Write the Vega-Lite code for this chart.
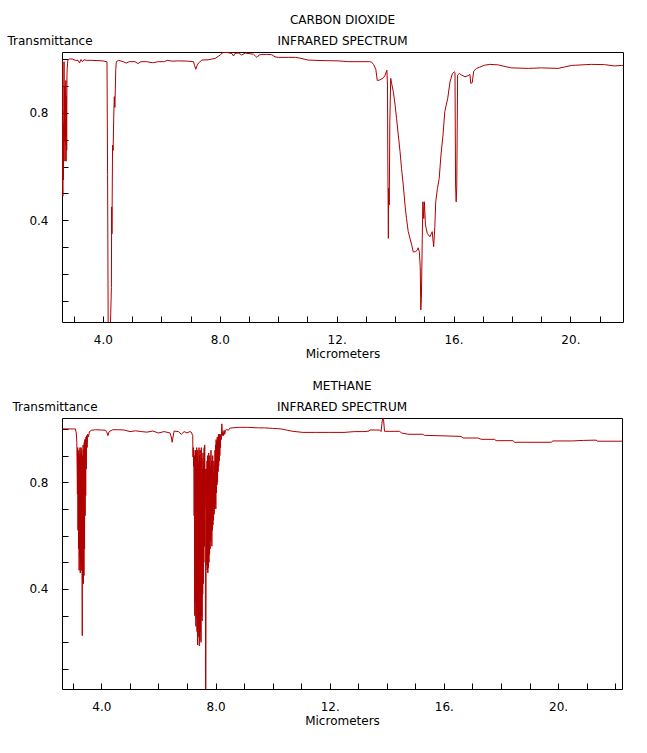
{
  "$schema": "https://vega.github.io/schema/vega-lite/v6.json",
  "padding": {"left": 4, "top": 13, "right": 5, "bottom": 5},
  "autosize": {"type": "pad"},
  "spacing": 19,
  "columns": 1,
  "align": "none",
  "config": {
    "font": "DejaVu Sans",
    "view": {"stroke": "black", "strokeWidth": 1},
    "axis": {"grid": false, "domain": false, "tickColor": "black", "tickSize": -6, "tickWidth": 1, "labelColor": "black", "labelFontSize": 12, "labelFont": "DejaVu Sans", "titleColor": "black", "titleFontSize": 12, "titleFontWeight": "normal", "titleFont": "DejaVu Sans", "labelOverlap": false, "labelFlush": false},
    "title": {"fontSize": 12, "fontWeight": "normal", "subtitleFontSize": 12, "color": "black", "subtitleColor": "black", "font": "DejaVu Sans", "subtitleFont": "DejaVu Sans", "subtitlePadding": 9, "frame": "group", "anchor": "middle", "offset": -14}
  },
  "datasets": {
    "co2": [
      {"w":2.60,"t":0.99},{"w":2.61,"t":0.99},{"w":2.62,"t":0.58},{"w":2.63,"t":0.49},{"w":2.64,"t":0.76},{"w":2.65,"t":0.55},{"w":2.66,"t":0.82},{"w":2.67,"t":0.99},{"w":2.68,"t":0.70},{"w":2.69,"t":0.90},{"w":2.70,"t":0.62},{"w":2.71,"t":0.88},{"w":2.72,"t":0.68},{"w":2.73,"t":0.92},{"w":2.74,"t":0.62},{"w":2.75,"t":0.86},{"w":2.76,"t":0.66},{"w":2.77,"t":0.94},{"w":2.78,"t":0.97},{"w":2.80,"t":0.995},{"w":2.85,"t":1.0},{"w":2.95,"t":1.0},{"w":3.05,"t":0.995},{"w":3.15,"t":0.995},{"w":3.2,"t":0.985},{"w":3.25,"t":0.998},{"w":3.3,"t":0.99},{"w":3.35,"t":0.997},{"w":3.45,"t":0.995},{"w":3.6,"t":0.995},{"w":3.8,"t":0.994},{"w":4.0,"t":0.993},{"w":4.12,"t":0.99},{"w":4.14,"t":0.99},{"w":4.16,"t":0.57},{"w":4.18,"t":0.02},{"w":4.20,"t":0.0},{"w":4.25,"t":0.0},{"w":4.26,"t":0.02},{"w":4.275,"t":0.085},{"w":4.29,"t":0.15},{"w":4.30,"t":0.45},{"w":4.31,"t":0.35},{"w":4.33,"t":0.68},{"w":4.35,"t":0.66},{"w":4.37,"t":0.78},{"w":4.39,"t":0.86},{"w":4.41,"t":0.82},{"w":4.44,"t":0.96},{"w":4.46,"t":0.99},{"w":4.54,"t":0.995},{"w":4.7,"t":0.99},{"w":4.8,"t":0.985},{"w":4.9,"t":0.99},{"w":5.1,"t":0.99},{"w":5.2,"t":0.983},{"w":5.3,"t":0.99},{"w":5.5,"t":0.99},{"w":5.7,"t":0.986},{"w":5.9,"t":0.99},{"w":6.1,"t":0.99},{"w":6.2,"t":0.995},{"w":6.36,"t":0.992},{"w":6.6,"t":0.993},{"w":6.9,"t":0.992},{"w":7.1,"t":0.99},{"w":7.14,"t":0.975},{"w":7.18,"t":0.962},{"w":7.22,"t":0.975},{"w":7.27,"t":0.985},{"w":7.39,"t":0.996},{"w":7.6,"t":0.997},{"w":7.73,"t":1.0},{"w":7.84,"t":1.002},{"w":7.95,"t":1.01},{"w":8.01,"t":1.014},{"w":8.08,"t":1.022},{"w":8.13,"t":1.025},{"w":8.25,"t":1.024},{"w":8.35,"t":1.022},{"w":8.42,"t":1.02},{"w":8.47,"t":1.011},{"w":8.52,"t":1.021},{"w":8.64,"t":1.022},{"w":8.75,"t":1.015},{"w":8.87,"t":1.022},{"w":9.0,"t":1.02},{"w":9.15,"t":1.018},{"w":9.21,"t":1.012},{"w":9.27,"t":1.006},{"w":9.35,"t":1.015},{"w":9.44,"t":1.017},{"w":9.6,"t":1.017},{"w":9.78,"t":1.016},{"w":9.89,"t":1.008},{"w":10.0,"t":1.006},{"w":10.35,"t":1.006},{"w":10.6,"t":1.006},{"w":10.75,"t":1.003},{"w":11.03,"t":0.996},{"w":11.5,"t":0.994},{"w":12.06,"t":0.993},{"w":12.4,"t":0.99},{"w":12.8,"t":0.99},{"w":13.13,"t":0.99},{"w":13.2,"t":0.988},{"w":13.26,"t":0.98},{"w":13.34,"t":0.962},{"w":13.39,"t":0.92},{"w":13.48,"t":0.922},{"w":13.6,"t":0.93},{"w":13.65,"t":0.938},{"w":13.72,"t":0.958},{"w":13.74,"t":0.90},{"w":13.75,"t":0.643},{"w":13.77,"t":0.333},{"w":13.78,"t":0.52},{"w":13.80,"t":0.457},{"w":13.82,"t":0.767},{"w":13.85,"t":0.928},{"w":13.88,"t":0.91},{"w":13.94,"t":0.878},{"w":14.0,"t":0.829},{"w":14.05,"t":0.779},{"w":14.11,"t":0.717},{"w":14.17,"t":0.655},{"w":14.22,"t":0.593},{"w":14.28,"t":0.531},{"w":14.34,"t":0.457},{"w":14.39,"t":0.407},{"w":14.45,"t":0.358},{"w":14.51,"t":0.333},{"w":14.57,"t":0.308},{"w":14.62,"t":0.283},{"w":14.70,"t":0.283},{"w":14.76,"t":0.29},{"w":14.79,"t":0.298},{"w":14.83,"t":0.283},{"w":14.86,"t":0.228},{"w":14.88,"t":0.067},{"w":14.90,"t":0.11},{"w":14.93,"t":0.333},{"w":14.95,"t":0.469},{"w":14.98,"t":0.407},{"w":15.0,"t":0.469},{"w":15.04,"t":0.383},{"w":15.10,"t":0.352},{"w":15.19,"t":0.339},{"w":15.24,"t":0.35},{"w":15.27,"t":0.358},{"w":15.32,"t":0.302},{"w":15.36,"t":0.376},{"w":15.39,"t":0.469},{"w":15.45,"t":0.519},{"w":15.51,"t":0.556},{"w":15.57,"t":0.643},{"w":15.64,"t":0.717},{"w":15.70,"t":0.804},{"w":15.80,"t":0.853},{"w":15.88,"t":0.915},{"w":15.96,"t":0.946},{"w":16.03,"t":0.952},{"w":16.05,"t":0.95},{"w":16.07,"t":0.531},{"w":16.09,"t":0.469},{"w":16.11,"t":0.52},{"w":16.14,"t":0.94},{"w":16.2,"t":0.946},{"w":16.28,"t":0.94},{"w":16.39,"t":0.934},{"w":16.5,"t":0.938},{"w":16.56,"t":0.943},{"w":16.59,"t":0.909},{"w":16.64,"t":0.912},{"w":16.69,"t":0.955},{"w":16.79,"t":0.965},{"w":16.9,"t":0.97},{"w":17.07,"t":0.977},{"w":17.24,"t":0.98},{"w":17.53,"t":0.978},{"w":17.76,"t":0.972},{"w":17.98,"t":0.967},{"w":18.56,"t":0.965},{"w":19.01,"t":0.967},{"w":19.58,"t":0.965},{"w":20.04,"t":0.976},{"w":20.72,"t":0.98},{"w":21.17,"t":0.979},{"w":21.52,"t":0.974},{"w":21.75,"t":0.976},{"w":21.8,"t":0.976}
    ],
    "ch4": [
      {"w":2.62,"t":1.0},{"w":2.8,"t":1.0},{"w":3.0,"t":1.0},{"w":3.09,"t":1.0},{"w":3.12,"t":0.985},{"w":3.14,"t":0.95},{"w":3.16,"t":0.756},{"w":3.17,"t":0.93},{"w":3.18,"t":0.62},{"w":3.19,"t":0.91},{"w":3.20,"t":0.55},{"w":3.21,"t":0.92},{"w":3.22,"t":0.47},{"w":3.23,"t":0.90},{"w":3.24,"t":0.52},{"w":3.25,"t":0.93},{"w":3.26,"t":0.46},{"w":3.27,"t":0.91},{"w":3.28,"t":0.50},{"w":3.29,"t":0.93},{"w":3.30,"t":0.47},{"w":3.31,"t":0.92},{"w":3.32,"t":0.60},{"w":3.33,"t":0.225},{"w":3.34,"t":0.90},{"w":3.35,"t":0.44},{"w":3.36,"t":0.94},{"w":3.37,"t":0.42},{"w":3.38,"t":0.92},{"w":3.39,"t":0.45},{"w":3.40,"t":0.95},{"w":3.41,"t":0.55},{"w":3.42,"t":0.96},{"w":3.43,"t":0.675},{"w":3.44,"t":0.96},{"w":3.45,"t":0.75},{"w":3.46,"t":0.97},{"w":3.47,"t":0.85},{"w":3.48,"t":0.975},{"w":3.50,"t":0.93},{"w":3.52,"t":0.98},{"w":3.55,"t":0.97},{"w":3.58,"t":0.99},{"w":3.65,"t":0.995},{"w":3.8,"t":0.997},{"w":4.0,"t":0.996},{"w":4.15,"t":0.995},{"w":4.2,"t":0.985},{"w":4.23,"t":0.975},{"w":4.27,"t":0.99},{"w":4.4,"t":0.997},{"w":4.6,"t":0.997},{"w":4.8,"t":0.996},{"w":5.0,"t":0.99},{"w":5.2,"t":0.993},{"w":5.4,"t":0.99},{"w":5.6,"t":0.988},{"w":5.8,"t":0.992},{"w":6.0,"t":0.985},{"w":6.2,"t":0.99},{"w":6.4,"t":0.985},{"w":6.45,"t":0.97},{"w":6.48,"t":0.95},{"w":6.51,"t":0.97},{"w":6.55,"t":0.992},{"w":6.7,"t":0.99},{"w":6.8,"t":0.98},{"w":6.9,"t":0.99},{"w":7.0,"t":0.985},{"w":7.1,"t":0.99},{"w":7.15,"t":0.988},
      {"w":7.20,"t":0.975},{"w":7.21,"t":0.895},{"w":7.22,"t":0.93},{"w":7.23,"t":0.86},{"w":7.24,"t":0.92},{"w":7.25,"t":0.675},{"w":7.26,"t":0.90},{"w":7.27,"t":0.30},{"w":7.28,"t":0.88},{"w":7.29,"t":0.35},{"w":7.30,"t":0.92},{"w":7.31,"t":0.26},{"w":7.32,"t":0.85},{"w":7.33,"t":0.29},{"w":7.34,"t":0.93},{"w":7.35,"t":0.24},{"w":7.36,"t":0.90},{"w":7.37,"t":0.19},{"w":7.38,"t":0.92},{"w":7.39,"t":0.22},{"w":7.40,"t":0.87},{"w":7.41,"t":0.25},{"w":7.42,"t":0.93},{"w":7.43,"t":0.187},{"w":7.44,"t":0.90},{"w":7.45,"t":0.21},{"w":7.46,"t":0.92},{"w":7.47,"t":0.24},{"w":7.48,"t":0.88},{"w":7.49,"t":0.20},{"w":7.50,"t":0.93},{"w":7.51,"t":0.30},{"w":7.52,"t":0.89},{"w":7.53,"t":0.28},{"w":7.54,"t":0.85},{"w":7.55,"t":0.38},{"w":7.56,"t":0.91},{"w":7.57,"t":0.42},{"w":7.58,"t":0.88},{"w":7.59,"t":0.50},{"w":7.60,"t":0.93},{"w":7.61,"t":0.56},{"w":7.62,"t":0.94},{"w":7.63,"t":0.70},{"w":7.64,"t":0.85},{"w":7.65,"t":0.0},{"w":7.66,"t":0.0},{"w":7.67,"t":0.55},{"w":7.68,"t":0.85},{"w":7.69,"t":0.49},{"w":7.70,"t":0.88},{"w":7.71,"t":0.47},{"w":7.72,"t":0.90},{"w":7.73,"t":0.46},{"w":7.74,"t":0.87},{"w":7.75,"t":0.48},{"w":7.76,"t":0.91},{"w":7.77,"t":0.50},{"w":7.78,"t":0.88},{"w":7.79,"t":0.53},{"w":7.80,"t":0.90},{"w":7.81,"t":0.55},{"w":7.82,"t":0.86},{"w":7.83,"t":0.58},{"w":7.84,"t":0.92},{"w":7.85,"t":0.60},{"w":7.86,"t":0.88},{"w":7.87,"t":0.56},{"w":7.88,"t":0.85},{"w":7.89,"t":0.62},{"w":7.90,"t":0.90},{"w":7.91,"t":0.64},{"w":7.92,"t":0.83},{"w":7.93,"t":0.66},{"w":7.94,"t":0.88},{"w":7.95,"t":0.68},{"w":7.96,"t":0.86},{"w":7.97,"t":0.70},{"w":7.98,"t":0.92},{"w":7.99,"t":0.72},{"w":8.00,"t":0.94},{"w":8.01,"t":0.70},{"w":8.02,"t":0.96},{"w":8.03,"t":0.76},{"w":8.04,"t":0.95},{"w":8.05,"t":0.79},{"w":8.06,"t":0.97},{"w":8.07,"t":0.80},{"w":8.08,"t":0.96},{"w":8.09,"t":0.84},{"w":8.10,"t":0.98},{"w":8.11,"t":0.86},{"w":8.12,"t":0.97},{"w":8.13,"t":0.88},{"w":8.14,"t":0.98},{"w":8.15,"t":0.90},{"w":8.16,"t":0.97},{"w":8.17,"t":0.93},{"w":8.18,"t":0.98},{"w":8.20,"t":0.96},{"w":8.22,"t":1.019},{"w":8.24,"t":0.975},{"w":8.26,"t":0.99},{"w":8.28,"t":0.975},{"w":8.30,"t":0.995},{"w":8.32,"t":0.98},{"w":8.35,"t":0.995},{"w":8.40,"t":0.998},{"w":8.45,"t":0.995},{"w":8.5,"t":1.003},{"w":8.8,"t":1.006},{"w":9.13,"t":1.006},{"w":9.5,"t":1.004},{"w":9.72,"t":1.004},{"w":10.0,"t":1.002},{"w":10.3,"t":1.0},{"w":10.48,"t":0.996},{"w":10.71,"t":0.991},{"w":11.06,"t":0.987},{"w":11.5,"t":0.987},{"w":12.0,"t":0.987},{"w":12.5,"t":0.987},{"w":12.87,"t":0.99},{"w":13.2,"t":0.99},{"w":13.38,"t":0.992},{"w":13.4,"t":0.996},{"w":13.75,"t":0.996},{"w":13.80,"t":0.99},{"w":13.84,"t":1.03},{"w":13.86,"t":1.04},{"w":13.89,"t":1.03},{"w":13.92,"t":0.991},{"w":14.45,"t":0.991},{"w":14.51,"t":0.985},{"w":14.74,"t":0.98},{"w":15.26,"t":0.98},{"w":15.32,"t":0.976},{"w":16.0,"t":0.974},{"w":16.6,"t":0.972},{"w":16.67,"t":0.966},{"w":17.19,"t":0.966},{"w":17.31,"t":0.961},{"w":17.78,"t":0.961},{"w":17.83,"t":0.956},{"w":18.42,"t":0.956},{"w":18.48,"t":0.95},{"w":19.76,"t":0.95},{"w":19.82,"t":0.955},{"w":20.5,"t":0.955},{"w":20.9,"t":0.957},{"w":21.33,"t":0.958},{"w":21.39,"t":0.954},{"w":22.24,"t":0.954}
    ]
  },
  "concat": [
    {
      "data": {"name": "co2"},
      "width": 561,
      "height": 270,
      "title": {"text": "CARBON DIOXIDE", "subtitle": "INFRARED SPECTRUM"},
      "mark": {"type": "line", "color": "#b00000", "strokeWidth": 1, "clip": true},
      "encoding": {
        "x": {"field": "w", "type": "quantitative", "scale": {"domain": [2.6, 21.8], "nice": false, "zero": false},
          "axis": {"title": "Micrometers", "values": [3,4,5,6,7,8,9,10,11,12,13,14,15,16,17,18,19,20,21], "labelExpr": "datum.value % 4 == 0 ? (datum.value < 10 ? format(datum.value, '.1f') : datum.value + '.') : ''", "labelPadding": 18, "titlePadding": 3}},
        "y": {"field": "t", "type": "quantitative", "scale": {"domain": [0.022, 1.026], "nice": false, "zero": false},
          "axis": {"title": "Transmittance", "values": [0.1,0.2,0.3,0.4,0.5,0.6,0.7,0.8,0.9,1.0], "labelExpr": "abs(datum.value - 0.4) < 0.01 || abs(datum.value - 0.8) < 0.01 ? format(datum.value, '.1f') : ''", "labelPadding": 20, "minExtent": 57, "titleAngle": 0, "titleAlign": "left", "titleBaseline": "middle", "titleX": -55, "titleY": -12}}
      }
    },
    {
      "data": {"name": "ch4"},
      "width": 560,
      "height": 271,
      "title": {"text": "METHANE", "subtitle": "INFRARED SPECTRUM"},
      "mark": {"type": "line", "color": "#b00000", "strokeWidth": 1, "clip": true},
      "encoding": {
        "x": {"field": "w", "type": "quantitative", "scale": {"domain": [2.62, 22.24], "nice": false, "zero": false},
          "axis": {"title": "Micrometers", "values": [3,4,5,6,7,8,9,10,11,12,13,14,15,16,17,18,19,20,21,22], "labelExpr": "datum.value % 4 == 0 ? (datum.value < 10 ? format(datum.value, '.1f') : datum.value + '.') : ''", "labelPadding": 18, "titlePadding": 3}},
        "y": {"field": "t", "type": "quantitative", "scale": {"domain": [0.025, 1.041], "nice": false, "zero": false},
          "axis": {"title": "Transmittance", "values": [0.1,0.2,0.3,0.4,0.5,0.6,0.7,0.8,0.9,1.0], "labelExpr": "abs(datum.value - 0.4) < 0.01 || abs(datum.value - 0.8) < 0.01 ? format(datum.value, '.1f') : ''", "labelPadding": 20, "minExtent": 57, "titleAngle": 0, "titleAlign": "left", "titleBaseline": "middle", "titleX": -50, "titleY": -12}}
      }
    }
  ]
}
